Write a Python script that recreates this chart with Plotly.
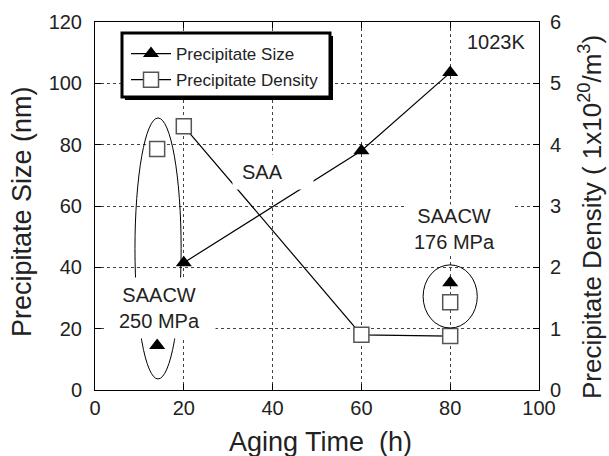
import plotly.graph_objects as go

# ---- data ----
time_saa = [20, 60, 80]
size_saa = [41.5, 78, 103.5]
density_saa = [4.3, 0.9, 0.88]

time_cw250 = [14]
size_cw250 = [14.5]
density_cw250 = [3.93]

time_cw176 = [80]
size_cw176 = [35]
density_cw176 = [1.43]

x_ticks = [0, 20, 40, 60, 80, 100]
size_ticks = [0, 20, 40, 60, 80, 100, 120]
density_ticks = [0, 1, 2, 3, 4, 5, 6]

# ---- layout constants ----
W, H = 609, 456
L, R, T, B = 95, 70, 22, 66
PW, PH = W - L - R, H - T - B
FONT = "Liberation Sans, Arial, sans-serif"


def px2paper(px, py):
    return (px - L) / PW, (H - B - py) / PH


tri = dict(symbol="triangle-up", size=14, color="black", line=dict(width=0))
sq = dict(symbol="square", size=15, color="white", line=dict(color="#555", width=1.5))

fig = go.Figure()
fig.add_trace(go.Scatter(x=time_saa, y=size_saa, mode="lines+markers", name="Precipitate Size",
                         line=dict(color="black", width=1.2), marker=tri, legendgroup="a"))
fig.add_trace(go.Scatter(x=time_saa, y=density_saa, mode="lines+markers", name="Precipitate Density",
                         line=dict(color="black", width=1.2), marker=sq, yaxis="y2", legendgroup="b"))
fig.add_trace(go.Scatter(x=time_cw250, y=density_cw250, mode="markers", marker=sq, yaxis="y2", showlegend=False))
fig.add_trace(go.Scatter(x=time_cw176, y=density_cw176, mode="markers", marker=sq, yaxis="y2", showlegend=False))
fig.add_trace(go.Scatter(x=time_cw250, y=size_cw250, mode="markers", marker=tri, showlegend=False))
fig.add_trace(go.Scatter(x=time_cw176, y=size_cw176, mode="markers", marker=tri, showlegend=False))

axis_common = dict(ticks="inside", ticklen=6, tickwidth=1, tickcolor="black",
                   showline=True, linecolor="black", linewidth=1, zeroline=False,
                   tickfont=dict(family=FONT, size=20, color="#222"))

lgx, lgy = px2paper(126, 36)
fig.update_layout(
    width=W, height=H, margin=dict(l=L, r=R, t=T, b=B, autoexpand=False),
    paper_bgcolor="white", plot_bgcolor="white",
    font=dict(family=FONT, color="#222"),
    xaxis=dict(range=[0, 100], tickvals=x_ticks, showgrid=True, gridcolor="#444", griddash="dot",
               gridwidth=1, mirror="ticks", **axis_common),
    yaxis=dict(range=[0, 120], tickvals=size_ticks, showgrid=True, gridcolor="#444", griddash="dot",
               gridwidth=1, mirror=True, ticklabelstandoff=8, **axis_common),
    yaxis2=dict(range=[0, 6], tickvals=density_ticks, overlaying="y", side="right", showgrid=False,
                ticklabelstandoff=6, **axis_common),
    showlegend=True,
    legend=dict(x=lgx, y=lgy, xanchor="left", yanchor="top",
                bgcolor="rgba(0,0,0,0)", borderwidth=0,
                font=dict(family=FONT, size=17, color="#222"), tracegroupgap=1, itemwidth=40),
)

# legend frame with shadow
sx0, sy0 = px2paper(125, 36)
sx1, sy1 = px2paper(333, 100)
fig.add_shape(type="rect", xref="paper", yref="paper", x0=sx0, x1=sx1, y0=sy1, y1=sy0,
              fillcolor="black", line=dict(width=0), layer="above")
bx0, by0 = px2paper(122, 33)
bx1, by1 = px2paper(330, 97)
fig.add_shape(type="rect", xref="paper", yref="paper", x0=bx0, x1=bx1, y0=by1, y1=by0,
              fillcolor="white", line=dict(color="black", width=3), layer="above")

# ellipses
fig.add_shape(type="circle", xref="x", yref="y", x0=9.0, x1=19.4, y0=3.6, y1=88.7,
              line=dict(color="black", width=1), layer="above")
fig.add_shape(type="circle", xref="x", yref="y", x0=73.9, x1=86.1, y0=20.2, y1=40.8,
              line=dict(color="black", width=1), layer="above")


# white boxes behind labels
def box(xc, yc, w, h):
    fig.add_annotation(x=xc, y=yc, xref="x", yref="y", text=" ", showarrow=False,
                       width=w, height=h, bgcolor="white", borderpad=0)


box(40.2, 71.1, 80, 34)
box(14.9, 26.9, 108, 60)
box(81.8, 52.5, 107, 48)

tfont = dict(family=FONT, size=20, color="#222")
fig.add_annotation(x=37.8, y=71.0, text="SAA", showarrow=False, font=tfont)
fig.add_annotation(x=14.5, y=26.9, text="SAACW<br>250 MPa", showarrow=False, font=tfont)
fig.add_annotation(x=81.0, y=52.4, text="SAACW<br>176 MPa", showarrow=False, font=tfont)
fig.add_annotation(x=90.3, y=113.5, text="1023K", showarrow=False, font=tfont)

# axis titles
title_font = dict(family=FONT, size=27, color="#222")
ax, ay = px2paper(320, 442)
fig.add_annotation(x=ax, y=ay, xref="paper", yref="paper", text="Aging Time\u00a0\u00a0(h)",
                   xanchor="center", yanchor="middle", showarrow=False, font=title_font)
lx, ly = px2paper(22, 212)
fig.add_annotation(x=lx, y=ly, xref="paper", yref="paper", text="Precipitate Size (nm)",
                   xanchor="center", yanchor="middle", textangle=-90, showarrow=False,
                   font=title_font)
rx, ry = px2paper(590, 217)
fig.add_annotation(x=rx, y=ry, xref="paper", yref="paper",
                   text="Precipitate Density (\u00a01x10<sup>20</sup>/m<sup>3</sup>)",
                   xanchor="center", yanchor="middle", textangle=-90, showarrow=False,
                   font=dict(family=FONT, size=26, color="#222"))

fig.write_html("out.html")
